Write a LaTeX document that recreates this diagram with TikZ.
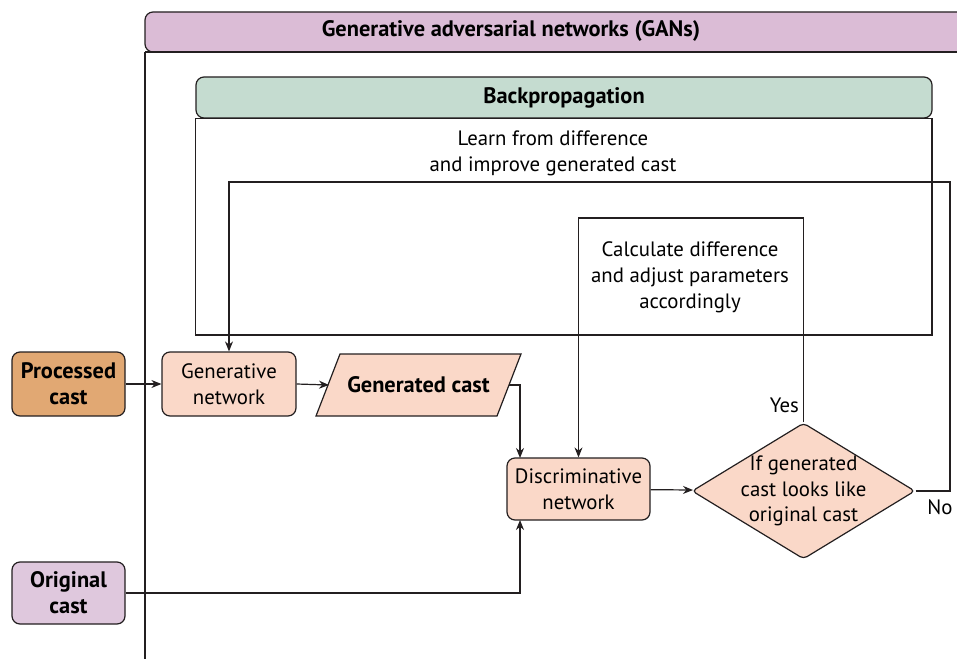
\documentclass[tikz,border=0pt]{standalone}
\usepackage{fontspec}
\setmainfont{PT Sans}
\usetikzlibrary{shapes.geometric,arrows.meta,positioning}
\definecolor{inkgray}{HTML}{231F20}
\definecolor{procfill}{HTML}{E1A873}
\definecolor{netfill}{HTML}{FAD8C8}
\definecolor{origfill}{HTML}{DFC8DD}
\definecolor{ganfill}{HTML}{DBBCD6}
\definecolor{bpfill}{HTML}{C5DCD0}

\begin{document}
\begin{tikzpicture}[x=0.5pt,y=-0.5pt,font=\fontsize{10.4}{12.9}\selectfont,
  line width=0.6pt,draw=inkgray,
  netbox/.style={draw=inkgray,rounded corners=4pt,inner sep=0pt,align=center,fill=netfill,minimum height=32pt},
  inbox/.style={netbox,font=\fontsize{11.2}{12.9}\selectfont\bfseries,minimum width=56.5pt},
  header/.style={draw=inkgray,rounded corners=4pt,inner sep=0pt,font=\fontsize{11.2}{12.9}\selectfont\bfseries},
  note/.style={align=center,inner sep=0pt},
  flow/.style={draw=inkgray,-{Stealth[length=5pt,width=4pt]}},
  wire/.style={draw=inkgray}]
  \clip (0,0) rectangle (957,658);
  %outer frame
  \draw[header,fill=ganfill] (145,12) rectangle (985,52);
  \draw[wire,line width=1pt] (145,52) -- (985,52);
  \node[font=\fontsize{11.2}{12.9}\selectfont\bfseries] (gan) at (511,31) {Generative adversarial networks (GANs)};
  \draw[wire] (145,52) -- (145,670);
  %backpropagation frame
  \node[header,fill=bpfill,minimum width=368pt,minimum height=20.5pt] (bp) at (564,97.5) {Backpropagation};
  \draw[wire] (bp.south west) rectangle (932,335);
  \node[note] (learn) at (553,153) {Learn from difference\\and improve generated cast};
  \node[note] (calc) at (690,277) {Calculate difference\\and adjust parameters\\accordingly};
  %nodes
  \node[inbox,fill=procfill] (proc) at (68.5,384) {Processed\\cast};
  \node[inbox,fill=origfill,minimum height=31pt] (orig) at (68.5,593) {Original\\cast};
  \node[netbox,minimum width=67pt] (gen) at (229,384) {Generative\\network};
  \draw[fill=netfill] (316,416) -- (340,354) -- (521,354) -- (497,416) -- cycle;
  \node[inner sep=0pt,font=\fontsize{11.2}{12.9}\selectfont\bfseries] (gc) at (418.5,385) {Generated cast};
  \node[netbox,minimum width=71.5pt,minimum height=31pt] (disc) at (578.5,489) {Discriminative\\network};
  \node[diamond,draw=inkgray,fill=netfill,rounded corners=2pt,aspect=1.64,inner sep=-4pt,
    minimum width=111.5pt,minimum height=68pt,align=center] (dia) at (803.5,491) {If generated\\cast looks like\\original cast};
  \coordinate (gcin) at (329,385);
  \coordinate (gcout) at (509,385);
  \coordinate (din) at (520,458);
  \coordinate (dout) at (520,520);
  %connectors
  \draw[flow] (proc) -- (gen);
  \draw[flow] (gen.east) -- (gcin);
  \draw[flow] (gcout) -| (din);
  \draw[flow] (orig.east) -| (dout);
  \draw[flow] (disc) -- (dia);
  \draw[flow] (dia.north) |- (578.5,218) -- (disc.north);
  \draw[flow] (dia.east) -| (950,182) -| (gen.north);
  \node[anchor=south east,inner sep=2pt,yshift=2.5pt] (yes) at (dia.north) {Yes};
  \node (no) at (940,507) {No};
\end{tikzpicture}
\end{document}
